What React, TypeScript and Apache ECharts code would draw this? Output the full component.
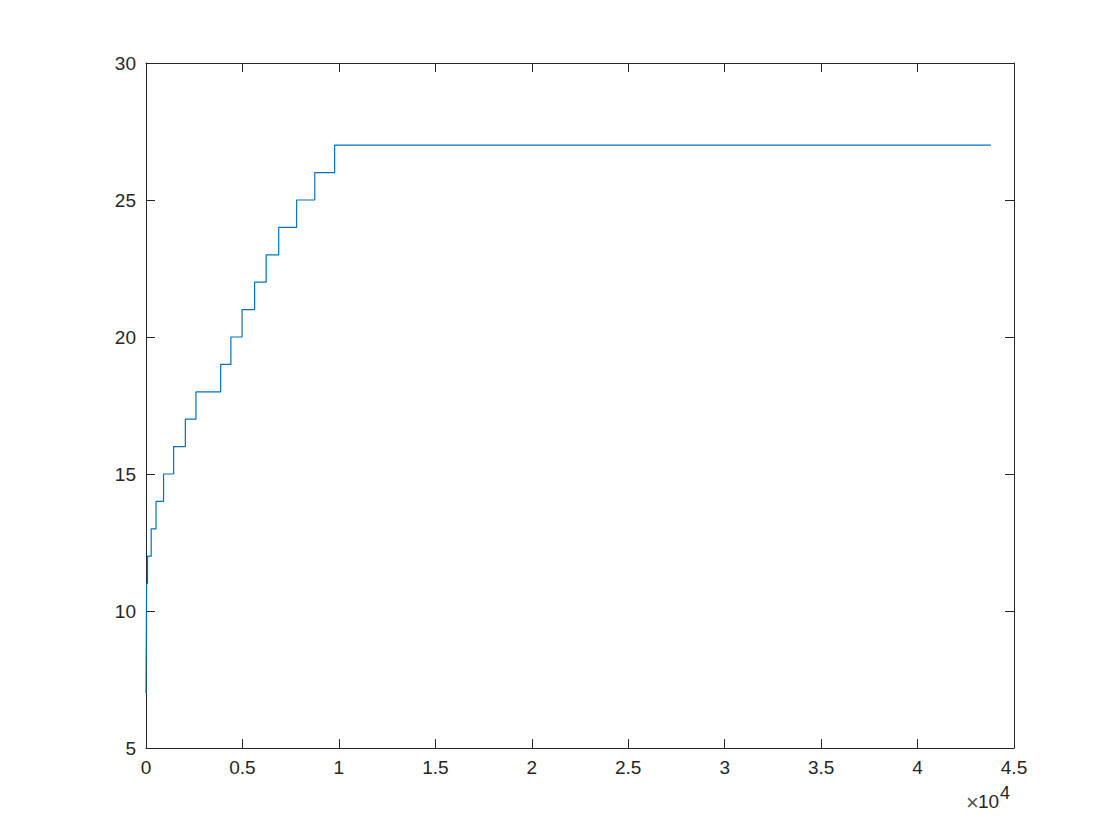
import React, { useEffect, useRef } from "react";
import * as echarts from "echarts";

const stepX = [0, 30, 80, 270, 520, 910, 1430, 2040, 2590, 3870, 4400, 4980, 5630, 6230, 6880, 7810, 8750, 9780, 43800];
const stepY = [7, 11, 12, 13, 14, 15, 16, 17, 18, 19, 20, 21, 22, 23, 24, 25, 26, 27, 27];
const xTicks = [0, 5000, 10000, 15000, 20000, 25000, 30000, 35000, 40000, 45000];
const yTicks = [5, 10, 15, 20, 25, 30];

const axisColor = "#262626";
const font = "'Liberation Sans', Helvetica, Arial, sans-serif";

export default function App() {
  const ref = useRef<HTMLDivElement>(null);
  useEffect(() => {
    const chart = echarts.init(ref.current!, null, { renderer: "svg" });
    const commonLine = { show: true, lineStyle: { color: axisColor, width: 1 } };
    const commonTick = { show: true, inside: true, length: 9, lineStyle: { color: axisColor, width: 1 } };
    chart.setOption({
      animation: false,
      backgroundColor: "#ffffff",
      grid: { left: 146, right: 106, top: 63, bottom: 92, containLabel: false },
      xAxis: [
        {
          type: "value",
          min: xTicks[0],
          max: xTicks[xTicks.length - 1],
          interval: 5000,
          position: "bottom",
          axisLine: { ...commonLine, onZero: false },
          axisTick: commonTick,
          splitLine: { show: false },
          axisLabel: {
            color: axisColor,
            fontSize: 19,
            fontFamily: font,
            margin: 10,
            formatter: (v: number) => String(v / 10000),
          },
        },
        {
          type: "value",
          min: xTicks[0],
          max: xTicks[xTicks.length - 1],
          interval: 5000,
          position: "top",
          axisLine: { ...commonLine, onZero: false },
          axisTick: commonTick,
          splitLine: { show: false },
          axisLabel: { show: false },
        },
      ],
      yAxis: [
        {
          type: "value",
          min: yTicks[0],
          max: yTicks[yTicks.length - 1],
          interval: 5,
          position: "left",
          axisLine: { ...commonLine, onZero: false },
          axisTick: commonTick,
          splitLine: { show: false },
          axisLabel: { color: axisColor, fontSize: 19, fontFamily: font, margin: 10 },
        },
        {
          type: "value",
          min: yTicks[0],
          max: yTicks[yTicks.length - 1],
          interval: 5,
          position: "right",
          axisLine: { ...commonLine, onZero: false },
          axisTick: commonTick,
          splitLine: { show: false },
          axisLabel: { show: false },
        },
      ],
      graphic: [
        {
          type: "text",
          x: 966,
          y: 802,
          style: { text: "×", fontSize: 22, fill: "#555555", fontFamily: font, textVerticalAlign: "middle" },
        },
        {
          type: "text",
          x: 978,
          y: 801,
          style: { text: "10", fontSize: 19, fill: axisColor, fontFamily: font, textVerticalAlign: "middle" },
        },
        {
          type: "text",
          x: 1000,
          y: 793,
          style: { text: "4", fontSize: 18, fill: axisColor, fontFamily: font, textVerticalAlign: "middle" },
        },
      ],
      series: [
        {
          type: "line",
          step: "end",
          data: stepX.map((x, i) => [x, stepY[i]]),
          showSymbol: false,
          symbol: "none",
          lineStyle: { color: "#0072BD", width: 1.2 },
        },
      ],
    });
    return () => chart.dispose();
  }, []);
  return <div ref={ref} style={{ width: 1120, height: 840, position: "absolute", left: 0, top: 0 }} />;
}
